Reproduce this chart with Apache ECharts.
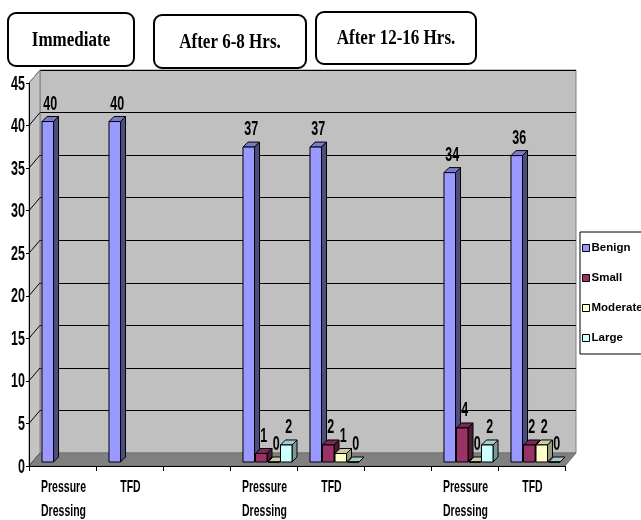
<!DOCTYPE html>
<html>
<head>
<meta charset="utf-8">
<script src="https://cdn.jsdelivr.net/npm/echarts@6/dist/echarts.min.js"></script>
<style>
  html, body { margin: 0; padding: 0; background: #fff; }
  #chart { width: 641px; height: 520px; }
</style>
</head>
<body>
<div id="chart"></div>
<script>
// Categories along the x axis (blank slots separate the three time groups)
const categories = ['Pressure\nDressing', 'TFD', '', 'Pressure\nDressing', 'TFD', '', 'Pressure\nDressing', 'TFD'];
const groupTitles = ['Immediate', 'After 6-8 Hrs.', 'After 12-16 Hrs.'];
const seriesNames = ['Benign', 'Small', 'Moderate', 'Large'];
const benign   = [40, 40, null, 37, 37, null, 34, 36];
const small    = [null, null, null, 1, 2, null, 4, 2];
const moderate = [null, null, null, 0, 1, null, 0, 2];
const large    = [null, null, null, 2, 0, null, 2, 0];
const yTicks   = [0, 5, 10, 15, 20, 25, 30, 35, 40, 45];

const seriesValues = [benign, small, moderate, large];
// front, top, side shades of each column
const shades = [
  ['#9999FF', '#7A7ACC', '#4D4D80'],
  ['#993366', '#7A2952', '#4D1A33'],
  ['#FFFFCC', '#CCCCA3', '#999980'],
  ['#CCFFFF', '#A3CCCC', '#7A9999']
];

const SANS = "'Liberation Sans', Arial, sans-serif";
const SERIF = "'Liberation Serif', 'Times New Roman', serif";
// tall, narrow lettering: small bold face stretched vertically
const TEXT_STRETCH = 1.6;

// depth of the floor/back wall and of each column
const WALL_DX = 11, WALL_DY = 13;
const BAR_DX = 5, BAR_DY = 5;
const BAR_SHIFT_Y = 4;

const chart = echarts.init(document.getElementById('chart'));

function tallText(x, y, text, size, align, vAlign, stretch) {
  return {
    type: 'text', x: x, y: y, scaleY: stretch || TEXT_STRETCH,
    style: { text: text, fill: '#000', font: 'bold ' + size + 'px ' + SANS, align: align, verticalAlign: vAlign }
  };
}

function barSeries(si) {
  const data = [];
  seriesValues[si].forEach((v, i) => { if (v !== null) data.push([i, v]); });
  const [front, top, side] = shades[si];
  return {
    name: seriesNames[si],
    type: 'custom',
    xAxisIndex: 0,
    yAxisIndex: 0,
    itemStyle: { color: front },
    z: 10 + si,
    data: data,
    renderItem: function (params, api) {
      const cat = api.value(0);
      const val = api.value(1);
      const bw = api.size([1, 0])[0];
      const c = api.coord([cat, val]);
      const b = api.coord([cat, 0]);
      const left = c[0] - bw * 0.306 + bw * 0.1866 * si;
      const w = bw * 0.172;
      const yt = c[1] - BAR_SHIFT_Y;
      const yb = b[1] - BAR_SHIFT_Y;
      const st = { stroke: '#000', lineWidth: 1 };
      return {
        type: 'group',
        children: [
          { type: 'polygon', shape: { points: [[left, yt], [left + w, yt], [left + w + BAR_DX, yt - BAR_DY], [left + BAR_DX, yt - BAR_DY]] },
            style: Object.assign({ fill: top }, st) },
          { type: 'polygon', shape: { points: [[left + w, yt], [left + w + BAR_DX, yt - BAR_DY], [left + w + BAR_DX, yb - BAR_DY], [left + w, yb]] },
            style: Object.assign({ fill: side }, st) },
          { type: 'rect', shape: { x: left, y: yt, width: w, height: yb - yt },
            style: Object.assign({ fill: front }, st) },
          tallText(left + w / 2 + BAR_DX / 2, yt - BAR_DY - 2, String(val), 12.5, 'center', 'bottom')
        ]
      };
    }
  };
}

// left side wall, floor and the slanted tick connectors
const wallSeries = {
  type: 'custom',
  xAxisIndex: 0,
  yAxisIndex: 0,
  silent: true,
  z: 1,
  data: [[0]],
  renderItem: function (params, api) {
    const cs = params.coordSys;
    const x0 = cs.x, x1 = cs.x + cs.width;
    const yb = api.coord([0, 0])[1];
    const ytop = api.coord([0, yTicks[yTicks.length - 1]])[1];
    const children = [
      { type: 'polygon', shape: { points: [[x0, yb], [x0 + WALL_DX, yb - WALL_DY], [x0 + WALL_DX, ytop - WALL_DY], [x0, ytop]] },
        style: { fill: '#C4C4C4', stroke: '#808080', lineWidth: 1 } },
      { type: 'polygon', shape: { points: [[x0, yb], [x1, yb], [x1 + WALL_DX, yb - WALL_DY], [x0 + WALL_DX, yb - WALL_DY]] },
        style: { fill: '#808080', stroke: '#707070', lineWidth: 1 } }
    ];
    yTicks.forEach(function (t) {
      if (t === 0) return;
      const y = api.coord([0, t])[1];
      children.push({ type: 'line', shape: { x1: x0, y1: y, x2: x0 + WALL_DX, y2: y - WALL_DY },
        style: { stroke: t === 45 ? '#808080' : '#000', lineWidth: 1 } });
    });
    children.push({ type: 'line', shape: { x1: x0, y1: yb, x2: x0 + WALL_DX, y2: yb - WALL_DY },
      style: { stroke: '#555', lineWidth: 1 } });
    return { type: 'group', children: children };
  }
};

// value-axis tick labels
const yLabelSeries = {
  type: 'custom',
  xAxisIndex: 0,
  yAxisIndex: 0,
  silent: true,
  z: 6,
  data: yTicks.map(function (t) { return [0, t]; }),
  renderItem: function (params, api) {
    const x0 = params.coordSys.x;
    const p = api.coord([0, api.value(1)]);
    return tallText(x0 - 4, p[1] + 1, String(api.value(1)), 12.5, 'right', 'middle');
  }
};

// category labels under the x axis
const xLabelSeries = {
  type: 'custom',
  xAxisIndex: 0,
  yAxisIndex: 0,
  silent: true,
  z: 6,
  data: categories.map(function (c, i) { return [i, 0]; }),
  renderItem: function (params, api) {
    const i = api.value(0);
    const p = api.coord([i, 0]);
    const lines = categories[i].split('\n');
    return {
      type: 'group',
      children: lines.map(function (ln, k) {
        return tallText(p[0] + 1, p[1] + 22 + k * 24, ln, 10.5, 'center', 'middle', 1.55);
      })
    };
  }
};

function titleBox(text, x, y, w, h) {
  return {
    type: 'group',
    children: [
      { type: 'rect', shape: { x: x, y: y, width: w, height: h, r: 8 },
        style: { fill: '#fff', stroke: '#000', lineWidth: 2 } },
      { type: 'text', x: x + w / 2, y: y + h / 2 + 1, scaleY: 1.25,
        style: { text: text, font: 'bold 17px ' + SERIF, fill: '#000', align: 'center', verticalAlign: 'middle' } }
    ]
  };
}

const option = {
  animation: false,
  backgroundColor: '#fff',
  grid: [
    { left: 29, right: 76, top: 83, bottom: 54, show: false },
    { left: 40, right: 65, top: 70, bottom: 67, show: true, backgroundColor: '#C0C0C0', borderColor: '#808080', borderWidth: 1, z: 0 }
  ],
  xAxis: [
    {
      type: 'category', gridIndex: 0, data: categories,
      axisLine: { lineStyle: { color: '#000', width: 1 } },
      axisTick: { show: true, interval: 0, length: 5, lineStyle: { color: '#000' } },
      axisLabel: { show: false },
      z: 5
    },
    { type: 'category', gridIndex: 1, data: categories, show: false }
  ],
  yAxis: [
    {
      type: 'value', gridIndex: 0, min: 0, max: 45, interval: 5,
      axisLine: { show: true, lineStyle: { color: '#000' } },
      axisTick: { show: true, length: 3, lineStyle: { color: '#000' } },
      axisLabel: { show: false },
      splitLine: { show: false },
      z: 5
    },
    {
      type: 'value', gridIndex: 1, min: 0, max: 45, interval: 5,
      axisLine: { show: false }, axisTick: { show: false }, axisLabel: { show: false },
      splitLine: { show: true, lineStyle: { color: '#000', width: 1 } }
    }
  ],
  legend: {
    orient: 'vertical',
    left: 580, top: 232,
    padding: [10, 6, 10, 2],
    itemGap: 18,
    itemWidth: 7, itemHeight: 7,
    borderColor: '#000', borderWidth: 1,
    backgroundColor: '#fff',
    textStyle: { color: '#000', fontFamily: SANS, fontWeight: 'bold', fontSize: 11.5, padding: [0, 0, 0, -3] },
    data: seriesNames.map(function (n) {
      return { name: n, icon: 'rect', itemStyle: { borderColor: '#000', borderWidth: 1 } };
    })
  },
  graphic: [
    titleBox(groupTitles[0], 8, 13, 126, 53),
    titleBox(groupTitles[1], 154, 15, 152, 53),
    titleBox(groupTitles[2], 316, 12, 160, 52)
  ],
  series: [wallSeries, yLabelSeries, xLabelSeries].concat(seriesNames.map(function (n, i) { return barSeries(i); }))
};

chart.setOption(option);
</script>
</body>
</html>
